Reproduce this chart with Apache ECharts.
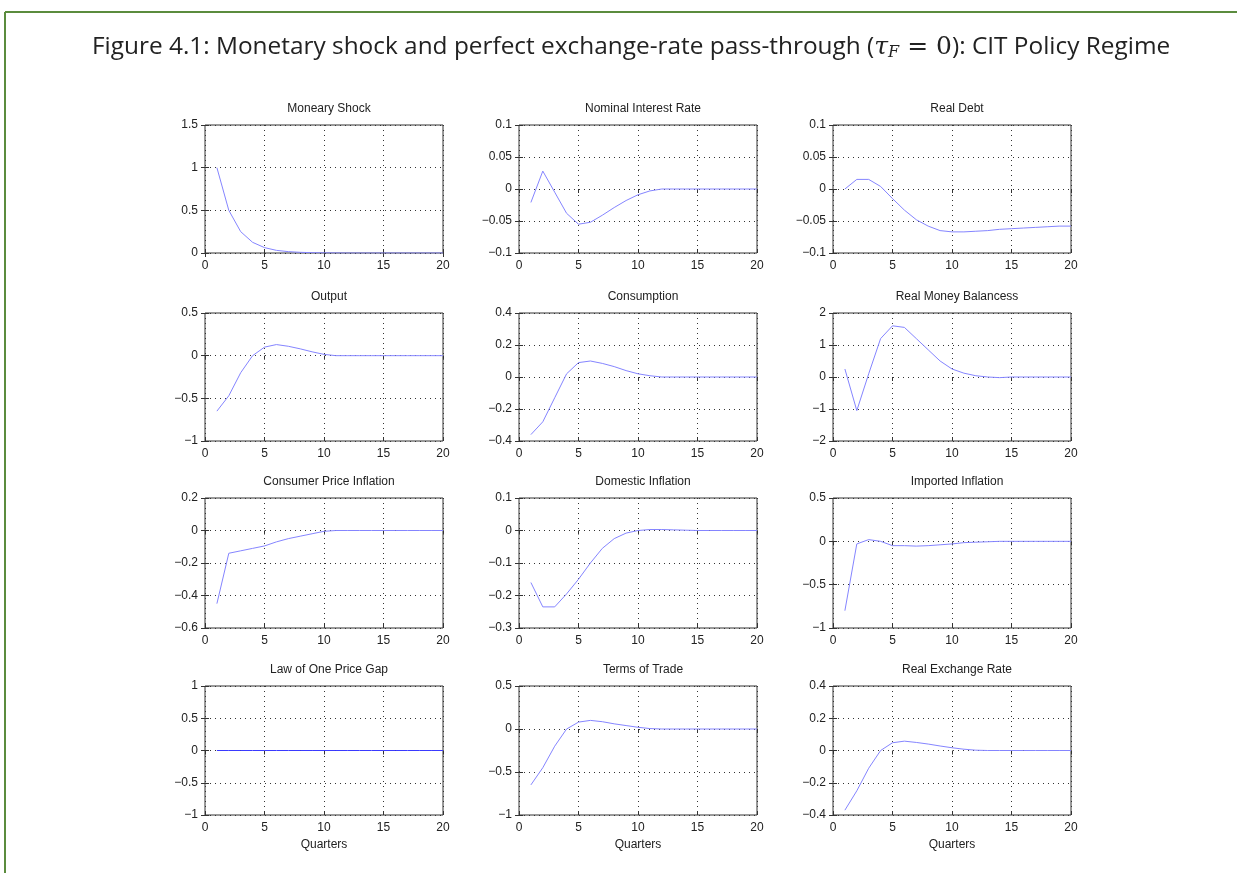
<!DOCTYPE html>
<html>
<head>
<meta charset="utf-8">
<title>Figure 4.1</title>
<script src="https://cdn.jsdelivr.net/npm/echarts@6/dist/echarts.min.js"></script>
<style>
  html, body { margin: 0; padding: 0; background: #fff; }
  #chart { width: 1237px; height: 873px; }
</style>
</head>
<body>
<div id="chart"></div>
<script>
// Impulse responses to a monetary shock, quarters 1..20
const quarters = [1, 2, 3, 4, 5, 6, 7, 8, 9, 10, 11, 12, 13, 14, 15, 16, 17, 18, 19, 20];

const monetaryShock = [1, 0.5, 0.25, 0.125, 0.063, 0.031, 0.016, 0.008, 0.004, 0.002, 0.001, 0, 0, 0, 0, 0, 0, 0, 0, 0];
const nominalRate = [-0.021, 0.028, -0.005, -0.038, -0.055, -0.052, -0.041, -0.029, -0.018, -0.009, -0.003, 0, 0, 0, 0, 0, 0, 0, 0, 0];
const realDebt = [0, 0.015, 0.015, 0.004, -0.015, -0.033, -0.048, -0.058, -0.065, -0.067, -0.067, -0.066, -0.065, -0.063, -0.062, -0.061, -0.060, -0.059, -0.058, -0.058];
const output = [-0.65, -0.47, -0.2, 0.0, 0.1, 0.13, 0.11, 0.08, 0.045, 0.015, 0.0, 0, 0, 0, 0, 0, 0, 0, 0, 0];
const consumption = [-0.36, -0.28, -0.13, 0.02, 0.09, 0.1, 0.085, 0.065, 0.04, 0.02, 0.008, 0, 0, 0, 0, 0, 0, 0, 0, 0];
const realMoney = [0.25, -1.05, 0.1, 1.2, 1.6, 1.55, 1.2, 0.85, 0.5, 0.25, 0.12, 0.04, 0, -0.02, 0, 0, 0, 0, 0, 0];
const cpiInflation = [-0.45, -0.14, -0.125, -0.11, -0.095, -0.07, -0.05, -0.035, -0.02, -0.005, 0, 0, 0, 0, 0, 0, 0, 0, 0, 0];
const domesticInflation = [-0.16, -0.235, -0.235, -0.195, -0.15, -0.1, -0.055, -0.025, -0.008, 0, 0.003, 0.003, 0.002, 0.001, 0, 0, 0, 0, 0, 0];
const importedInflation = [-0.8, -0.03, 0.02, 0.0, -0.05, -0.05, -0.055, -0.05, -0.04, -0.03, -0.015, -0.01, -0.005, 0, 0, 0, 0, 0, 0, 0];
const lopGap = [0, 0, 0, 0, 0, 0, 0, 0, 0, 0, 0, 0, 0, 0, 0, 0, 0, 0, 0, 0];
const termsOfTrade = [-0.65, -0.45, -0.2, 0.0, 0.08, 0.1, 0.085, 0.06, 0.04, 0.02, 0.005, 0, 0, 0, 0, 0, 0, 0, 0, 0];
const realExchange = [-0.37, -0.25, -0.11, 0.0, 0.048, 0.058, 0.05, 0.04, 0.028, 0.017, 0.008, 0.002, 0, 0, 0, 0, 0, 0, 0, 0];

const panelTitles = ['Moneary Shock', 'Nominal Interest Rate', 'Real Debt',
  'Output', 'Consumption', 'Real Money Balancess',
  'Consumer Price Inflation', 'Domestic Inflation', 'Imported Inflation',
  'Law of One Price Gap', 'Terms of Trade', 'Real Exchange Rate'];
const panelSeries = [monetaryShock, nominalRate, realDebt,
  output, consumption, realMoney,
  cpiInflation, domesticInflation, importedInflation,
  lopGap, termsOfTrade, realExchange];

// y-axis ranges per panel
const yMin = [0, -0.1, -0.1, -1, -0.4, -2, -0.6, -0.3, -1, -1, -1, -0.4];
const yMax = [1.5, 0.1, 0.1, 0.5, 0.4, 2, 0.2, 0.1, 0.5, 1, 0.5, 0.4];
const yStep = [0.5, 0.05, 0.05, 0.5, 0.2, 1, 0.2, 0.1, 0.5, 0.5, 0.5, 0.2];

const xMin = 0, xMax = 20, xStep = 5;
const xAxisTitle = 'Quarters';
const figureTitle = 'Figure 4.1: Monetary shock and perfect exchange-rate pass-through (';
const figureTitleEnd = '): CIT Policy Regime';

// layout of the 4 x 3 panel grid
const colLeft = [205, 519, 833];
const rowTop = [125, 313, 498, 686];
const rowHeight = [128, 128, 130, 129];
const panelWidth = 238;

const FONT = 'Liberation Sans, Arial, sans-serif';
const fmt = v => String(+v.toFixed(4)).replace('-', '\u2212');

const grids = [], xAxes = [], yAxes = [], series = [], titles = [];

titles.push({
  left: 87, top: 28,
  text: figureTitle + '{tau|\u03c4}{sub|F}{eq| = 0}' + figureTitleEnd,
  textStyle: {
    fontFamily: 'Open Sans', fontSize: 24.4, fontWeight: 'normal', color: '#222',
    rich: {
      tau: { fontFamily: 'DejaVu Serif', fontStyle: 'italic', fontSize: 25, color: '#222' },
      sub: { fontFamily: 'DejaVu Serif', fontStyle: 'italic', fontSize: 16, color: '#222', padding: [12, 0, 0, 0] },
      eq: { fontFamily: 'DejaVu Serif', fontSize: 25, color: '#222' }
    }
  }
});

panelSeries.forEach((vals, i) => {
  const r = Math.floor(i / 3), c = i % 3;
  grids.push({
    left: colLeft[c], top: rowTop[r], width: panelWidth, height: rowHeight[r],
    show: true, borderColor: '#333', borderWidth: 1, backgroundColor: '#fff'
  });
  const last = r === 3;
  xAxes.push({
    type: 'value', gridIndex: i, min: xMin, max: xMax, interval: xStep,
    axisLine: { show: false, onZero: false },
    axisTick: { show: true, inside: true, length: 4, lineStyle: { color: '#333' } },
    axisLabel: { fontFamily: FONT, fontSize: 12, color: '#222', margin: 7, formatter: fmt },
    splitLine: { show: true, lineStyle: { color: '#333', type: [1, 4], width: 1 } },
    name: last ? xAxisTitle : '', nameLocation: 'middle', nameGap: 24,
    nameTextStyle: { fontFamily: FONT, fontSize: 12, color: '#222' }
  });
  xAxes.push({
    type: 'value', gridIndex: i, min: xMin, max: xMax, interval: xStep, position: 'top',
    axisLine: { show: false }, axisLabel: { show: false }, splitLine: { show: false },
    axisTick: { show: true, inside: true, length: 4, lineStyle: { color: '#333' } }
  });
  yAxes.push({
    type: 'value', gridIndex: i, min: yMin[i], max: yMax[i], interval: yStep[i],
    axisLine: { show: false, onZero: false },
    axisTick: { show: true, inside: true, length: 4, lineStyle: { color: '#333' } },
    axisLabel: { fontFamily: FONT, fontSize: 12, color: '#222', margin: 7, formatter: fmt },
    splitLine: { show: true, lineStyle: { color: '#333', type: [1, 4], width: 1 } }
  });
  yAxes.push({
    type: 'value', gridIndex: i, min: yMin[i], max: yMax[i], interval: yStep[i], position: 'right',
    axisLine: { show: false }, axisLabel: { show: false }, splitLine: { show: false },
    axisTick: { show: true, inside: true, length: 4, lineStyle: { color: '#333' } }
  });
  series.push({
    type: 'line', xAxisIndex: 2 * i, yAxisIndex: 2 * i,
    data: quarters.map((q, k) => [q, vals[k]]),
    showSymbol: false, symbol: 'none', silent: true, animation: false,
    lineStyle: { color: i === 9 ? '#3a3aff' : '#8585ff', width: 1 }
  });
  titles.push({
    text: panelTitles[i],
    left: colLeft[c] + panelWidth / 2, top: rowTop[r] - 27,
    textAlign: 'center',
    textStyle: { fontFamily: FONT, fontSize: 12, fontWeight: 'normal', color: '#222' }
  });
});

const chart = echarts.init(document.getElementById('chart'), null, { renderer: 'canvas' });
chart.setOption({
  backgroundColor: '#fff',
  animation: false,
  title: titles,
  grid: grids,
  xAxis: xAxes,
  yAxis: yAxes,
  series: series,
  graphic: [
    // page frame
    { type: 'line', shape: { x1: 5, y1: 12, x2: 1237, y2: 12 }, style: { stroke: '#5b8c3e', lineWidth: 2 } },
    { type: 'line', shape: { x1: 5, y1: 12, x2: 5, y2: 873 }, style: { stroke: '#5b8c3e', lineWidth: 2 } }
  ]
});
</script>
</body>
</html>
